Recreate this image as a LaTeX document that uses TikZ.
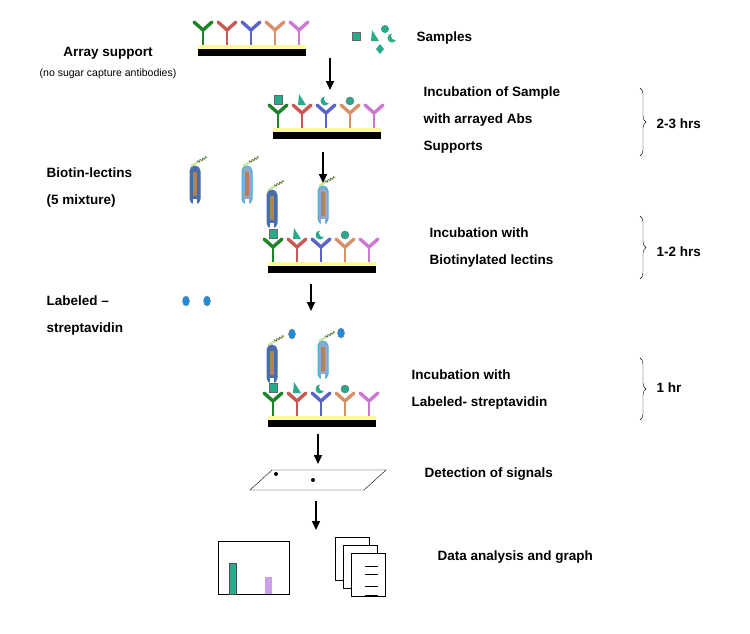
\documentclass[tikz,border=0pt]{standalone}
\usepackage{fontspec}
\setmainfont{Liberation Sans}
\usetikzlibrary{positioning,decorations.pathreplacing,decorations.pathmorphing,arrows.meta}
\definecolor{abgreen}{RGB}{30,130,40}
\definecolor{abred}{RGB}{200,90,85}
\definecolor{abblue}{RGB}{90,100,200}
\definecolor{aborange}{RGB}{215,145,105}
\definecolor{abpink}{RGB}{205,120,210}
\definecolor{sugar}{RGB}{40,170,140}
\definecolor{lecblue}{RGB}{70,110,170}
\definecolor{leccyan}{RGB}{60,180,220}
\definecolor{lecbrown}{RGB}{180,130,80}
\definecolor{biotin}{RGB}{200,230,150}
\definecolor{strep}{RGB}{30,140,220}
\definecolor{barpurple}{RGB}{200,160,235}
% one antibody: x, top y, colour
\newcommand\oneab[3]{%
  \draw[#3, line width=2.6pt] (#1,#2+9) -- (#1,#2+24);
  \draw[#3, line width=3.4pt, line cap=round] (#1-9,#2+1) -- (#1,#2+9) -- (#1+9,#2+1);}
% array of five antibodies on a support: first x, top y
\newcommand\abarray[2]{%
  \oneab{#1}{#2}{abgreen}
  \oneab{#1+24}{#2}{abred}
  \oneab{#1+48}{#2}{abblue}
  \oneab{#1+72}{#2}{aborange}
  \oneab{#1+96}{#2}{abpink}
  \fill[yellow!40] (#1-5,#2+24) rectangle (#1+103,#2+28);
  \fill[black] (#1-5,#2+28) rectangle (#1+103,#2+35);}
% sugars bound on the array: first x, top y
\newcommand\sugars[2]{%
  \fill[sugar, draw=black!60] (#1-4,#2-9) rectangle (#1+4,#2);
  \fill[sugar] (#1+20,#2+1) -- (#1+28,#2+1) -- (#1+21,#2-10) -- cycle;
  \fill[sugar] (#1+47,#2-3) circle (4.5);
  \fill[white] (#1+50,#2-5) circle (4);
  \fill[sugar, draw=black!60] (#1+72,#2-3) circle (4);}
% lectin: x, top y, body colour, outline colour
\newcommand\lectin[4]{%
  \draw[biotin, line width=2pt] (#1-4,#2) -- (#1+12,#2-9);
  \draw[black!70, decorate, decoration={zigzag, segment length=3pt, amplitude=1.2pt}] (#1+2,#2-4) -- (#1+12,#2-9);
  \filldraw[fill=#3, draw=#4, line width=1pt, rounded corners=5pt] (#1-5,#2) rectangle (#1+5,#2+38);
  \fill[lecbrown] (#1-2,#2+6) rectangle (#1+2,#2+30);
  \fill[white] (#1-2,#2+33) rectangle (#1+2,#2+39);}
\begin{document}
\begin{tikzpicture}[x=1pt, y=-1pt,
    lbl/.style={font=\fontsize{13.5}{27}\selectfont\bfseries, align=left, anchor=west},
    flowarrow/.style={-{Triangle[length=9pt, width=8pt]}, line width=1.6pt},
    hrs/.style={decorate, decoration={brace, amplitude=6pt}, thin},
  ]
  \useasboundingbox (0,0) rectangle (750,633);

  % arrays
  \abarray{203}{21}
  \abarray{278}{104}
  \lectin{272}{190}{lecblue}{lecblue}
  \lectin{323}{186}{lecblue!60}{leccyan}
  \abarray{273}{238}
  \sugars{273}{238}
  \sugars{278}{104}
  \lectin{272}{345}{lecblue}{lecblue}
  \lectin{323}{341}{lecblue!60}{leccyan}
  \abarray{273}{392}
  \sugars{273}{392}
  \fill[strep, draw=black!50] (292,334) ellipse (3.5 and 5);
  \fill[strep, draw=black!50] (341,333) ellipse (3.5 and 5);

  % free samples, lectins, streptavidin
  \fill[sugar, draw=black!60] (352,32) rectangle (360,40);
  \fill[sugar] (371,41) -- (379,41) -- (372,30) -- cycle;
  \fill[sugar] (385,29) circle (4);
  \fill[sugar] (392,38) circle (4.5); \fill[white] (395,36) circle (4);
  \fill[sugar] (380,44) -- (384,49) -- (380,54) -- (376,49) -- cycle;
  \lectin{195}{166}{lecblue}{lecblue}
  \lectin{247}{166}{lecblue!60}{leccyan}
  \fill[strep, draw=black!50] (186,301) ellipse (3.5 and 5);
  \fill[strep, draw=black!50] (207,301) ellipse (3.5 and 5);

  % slide
  \draw (250,490) -- (272,470) -- (386,470) -- (364,490) -- cycle;
  \fill (276,474) circle (2); \fill (313,480) circle (2);

  % graph and pages
  \draw (218,541) rectangle (289,594);
  \filldraw[fill=sugar, draw=black!70] (229,563) rectangle (236,594);
  \fill[barpurple] (265,577) rectangle (272,594);
  \foreach \d in {0,8,16}
    \filldraw[fill=white] (335+\d,537+\d) rectangle (369+\d,580+\d);
  \foreach \yy in {566,574,586,595}
    \draw (365,\yy) -- (378,\yy);

  % steps
  \coordinate (s1a) at (330,58);  \coordinate (s1b) at (330,90);
  \coordinate (s2a) at (323,152); \coordinate (s2b) at (323,183);
  \coordinate (s3a) at (311,284); \coordinate (s3b) at (311,311);
  \coordinate (s4a) at (318,434); \coordinate (s4b) at (318,464);
  \coordinate (s5a) at (316,501); \coordinate (s5b) at (316,530);
  \draw[flowarrow] (s1a) -- (s1b);
  \draw[flowarrow] (s2a) -- (s2b);
  \draw[flowarrow] (s3a) -- (s3b);
  \draw[flowarrow] (s4a) -- (s4b);
  \draw[flowarrow] (s5a) -- (s5b);

  % labels
  \node[lbl] (samples) at (413,38) {Samples};
  \node[lbl, anchor=center] (support) at (108,53) {Array support};
  \node[font=\fontsize{10.5}{12}\selectfont, below=3pt of support] (nosugar) {(no sugar capture antibodies)};
  \node[lbl] (inc1) at (420,120) {Incubation of Sample\\with arrayed Abs\\Supports};
  \node[lbl] (biolec) at (43,188) {Biotin-lectins\\(5 mixture)};
  \node[lbl] (inc2) at (426,248) {Incubation with\\Biotinylated lectins};
  \node[lbl] (labstrep) at (43,316) {Labeled –\\streptavidin};
  \node[lbl] (inc3) at (408,390) {Incubation with\\Labeled- streptavidin};
  \node[lbl] (detect) at (421,474) {Detection of signals};
  \node[lbl] (data) at (434,557) {Data analysis and graph};

  % durations
  \coordinate (b1a) at (640,88);  \coordinate (b1b) at (640,156);
  \coordinate (b2a) at (640,216); \coordinate (b2b) at (640,279);
  \coordinate (b3a) at (640,358); \coordinate (b3b) at (640,420);
  \draw[hrs] (b1a) -- (b1b);
  \draw[hrs] (b2a) -- (b2b);
  \draw[hrs] (b3a) -- (b3b);
  \node[lbl] (t1) at (653,124) {2-3 hrs};
  \node[lbl] (t2) at (653,252) {1-2 hrs};
  \node[lbl] (t3) at (653,388) {1 hr};
\end{tikzpicture}
\end{document}
